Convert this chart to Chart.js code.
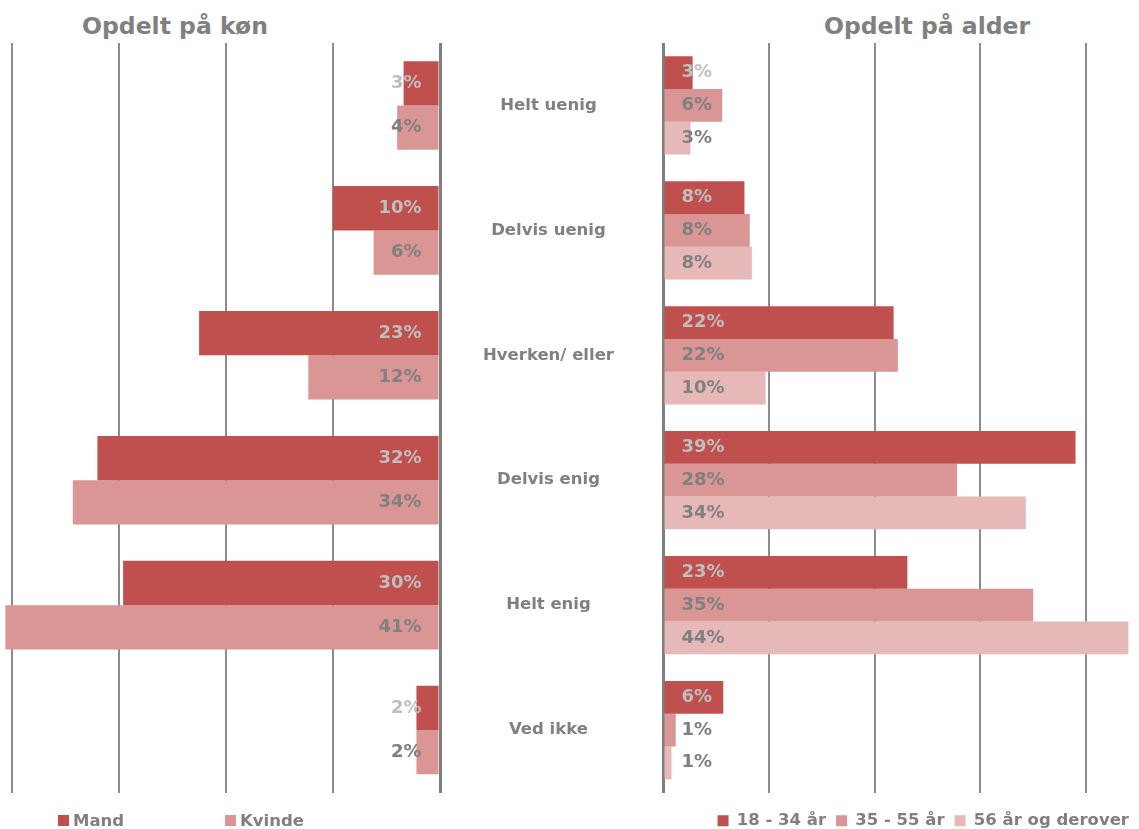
<!DOCTYPE html>
<html lang="da">
<head>
  <meta charset="UTF-8">
  <title>Opdelt på køn og alder</title>
  <script src="https://cdn.jsdelivr.net/npm/chart.js@4.4.1/dist/chart.umd.min.js"></script>
  <style>
    body { margin: 0; background: #fff; overflow: hidden; }
    #wrap { position: relative; width: 1139px; height: 829px; overflow: hidden; font-family: "DejaVu Sans", sans-serif; }
    canvas { position: absolute; top: 0; }
    .title { position: absolute; top: 14px; width: 350px; text-align: center; font: bold 23.5px/24px "DejaVu Sans"; color: #808080; }
    .lg { position: absolute; top: 812px; height: 17px; display: flex; align-items: center; font: bold 16.5px/17px "DejaVu Sans"; color: #808080; }
    .lg i { display: inline-block; width: 11px; height: 11px; margin-right: 4px; }
  </style>
</head>
<body>
<div id="wrap">
  <div class="title" style="left:0">Opdelt på køn</div>
  <div class="title" style="left:752px">Opdelt på alder</div>
  <canvas id="koen" width="662" height="829" style="left:0"></canvas>
  <canvas id="alder" width="499" height="839" style="left:640px"></canvas>
  <div class="lg" style="left:58px"><i style="background:#C0504D"></i>Mand</div>
  <div class="lg" style="left:225px"><i style="background:#D99694"></i>Kvinde</div>
</div>

<script>
  // data (procent)
  const kategorier = ['Helt uenig', 'Delvis uenig', 'Hverken/ eller', 'Delvis enig', 'Helt enig', 'Ved ikke'];
  const mand   = [3.4, 10.0, 22.5, 32.0, 29.6, 2.2];
  const kvinde = [4.0, 6.2, 12.3, 34.3, 40.6, 2.2];
  const alder18 = [2.8, 7.7, 21.8, 39.0, 23.1, 5.7];
  const alder35 = [5.6, 8.2, 22.2, 27.8, 35.0, 1.2];
  const alder56 = [2.6, 8.4, 9.7, 34.3, 44.0, 0.8];
  const xTicks = [0, 10, 20, 30, 40];

  const rod = '#C0504D', lyserod = '#D99694', lys = '#E6B9B8';
  const lysGraa = '#BFBFBF', morkGraa = '#808080';

  Chart.defaults.font.family = '"DejaVu Sans", sans-serif';
  Chart.defaults.font.weight = 'bold';
  Chart.defaults.color = morkGraa;

  // procent-etiketter ved nul-aksen
  const barLabels = {
    id: 'barLabels',
    afterDatasetsDraw(chart, args, opts) {
      const ctx = chart.ctx;
      ctx.save();
      ctx.font = 'bold 18px "DejaVu Sans"';
      ctx.textBaseline = 'middle';
      chart.data.datasets.forEach((ds, i) => {
        const meta = chart.getDatasetMeta(i);
        ctx.fillStyle = opts.colors[i];
        meta.data.forEach((bar, j) => {
          const txt = Math.round(ds.data[j]) + '%';
          if (opts.side === 'left') {
            ctx.textAlign = 'right';
            ctx.fillText(txt, bar.base - 17, bar.y);
          } else {
            ctx.textAlign = 'left';
            ctx.fillText(txt, bar.base + 17, bar.y);
          }
        });
      });
      ctx.restore();
    }
  };

  const grid = {
    color: ctx => ctx.tick && ctx.tick.value === 0 ? '#7F7F7F' : '#8C8C8C',
    lineWidth: ctx => ctx.tick && ctx.tick.value === 0 ? 3 : 2,
    drawTicks: false
  };

  new Chart(document.getElementById('koen'), {
    type: 'bar',
    data: {
      labels: kategorier,
      datasets: [
        { label: 'Mand', data: mand, backgroundColor: rod },
        { label: 'Kvinde', data: kvinde, backgroundColor: lyserod }
      ]
    },
    options: {
      indexAxis: 'y',
      responsive: false,
      animation: false,
      categoryPercentage: 0.709,
      barPercentage: 1,
      layout: { padding: { top: 43, bottom: 36.5, left: 0, right: 0 } },
      scales: {
        x: {
          reverse: true, min: 0, max: 41.1,
          afterBuildTicks: s => { s.ticks = xTicks.map(v => ({ value: v })); },
          ticks: { display: false },
          border: { display: false },
          grid: grid,
          afterFit: s => { s.height = 0; }
        },
        y: {
          position: 'right',
          // kategorinavnene står midt mellem de to diagrammer
          grid: { display: false, drawTicks: true, tickLength: 43 },
          border: { display: false },
          ticks: { crossAlign: 'center', padding: 0, font: { size: 16.5, weight: 'bold' }, color: morkGraa },
          afterFit: s => { s.width = 222; }
        }
      },
      plugins: {
        legend: { display: false },
        tooltip: { enabled: false },
        barLabels: { side: 'left', colors: [lysGraa, morkGraa] }
      }
    },
    plugins: [barLabels]
  });

  new Chart(document.getElementById('alder'), {
    type: 'bar',
    data: {
      labels: kategorier,
      datasets: [
        { label: '18 - 34 år', data: alder18, backgroundColor: rod },
        { label: '35 - 55 år', data: alder35, backgroundColor: lyserod },
        { label: '56 år og derover', data: alder56, backgroundColor: lys }
      ]
    },
    options: {
      indexAxis: 'y',
      responsive: false,
      animation: false,
      categoryPercentage: 0.787,
      barPercentage: 1,
      layout: { padding: { top: 43, bottom: 0, left: 23, right: 0 } },
      scales: {
        x: {
          min: 0, max: 45,
          afterBuildTicks: s => { s.ticks = xTicks.map(v => ({ value: v })); },
          ticks: { display: false },
          border: { display: false },
          grid: grid,
          afterFit: s => { s.height = 10; }
        },
        y: { display: false }
      },
      plugins: {
        legend: {
          position: 'bottom',
          align: 'end',
          labels: { boxWidth: 11, boxHeight: 11, padding: 10, color: morkGraa, font: { size: 16.5, weight: 'bold' } }
        },
        tooltip: { enabled: false },
        barLabels: { side: 'right', colors: [lysGraa, morkGraa, morkGraa] }
      }
    },
    plugins: [barLabels]
  });
</script>
</body>
</html>
